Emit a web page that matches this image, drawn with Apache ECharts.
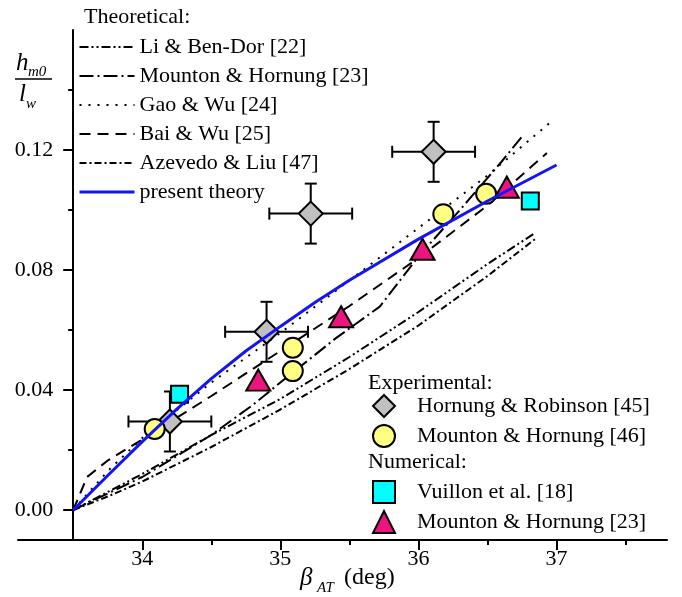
<!DOCTYPE html>
<html>
<head>
<meta charset="utf-8">
<script src="https://cdn.jsdelivr.net/npm/echarts@6.0.0/dist/echarts.min.js"></script>
<style>
  html, body { margin: 0; padding: 0; background: #fff; }
  #chart { width: 682px; height: 597px; }
</style>
</head>
<body>
<div id="chart"></div>
<script>
// theoretical curves
const liX = [33.5, 33.75, 34, 34.5, 35, 35.5, 36, 36.5, 36.85];
const liY = [0, 0.006, 0.012, 0.025, 0.037, 0.051, 0.066, 0.082, 0.0925];
const mhX = [33.5, 34, 34.5, 34.8, 35, 35.4, 35.72, 36, 36.3, 36.6, 36.75];
const mhY = [0, 0.011, 0.025, 0.035, 0.0425, 0.0572, 0.0678, 0.0845, 0.1, 0.116, 0.1245];
const gaoX = [33.5, 33.75, 34, 34.5, 35, 35.5, 36, 36.5, 36.95];
const gaoY = [0, 0.013, 0.024, 0.0425, 0.059, 0.0765, 0.094, 0.1115, 0.129];
const baiX = [33.5, 33.6, 33.75, 34, 34.5, 35, 35.5, 36, 36.5, 36.93];
const baiY = [0, 0.011, 0.0165, 0.0235, 0.038, 0.053, 0.068, 0.084, 0.1015, 0.119];
const azX = [33.5, 33.75, 34, 34.5, 35, 35.5, 36, 36.5, 36.85];
const azY = [0, 0.0045, 0.0095, 0.021, 0.0335, 0.047, 0.0615, 0.078, 0.0905];
const presX = [33.5, 33.75, 34, 34.25, 34.5, 34.75, 35, 35.25, 35.5, 36, 36.5, 37];
const presY = [0, 0.0115, 0.0228, 0.0336, 0.0438, 0.053, 0.0612, 0.0692, 0.0766, 0.0903, 0.103, 0.115];

// experimental / numerical points
const hrX = [34.2, 34.9, 35.22, 36.11];
const hrY = [0.0295, 0.0594, 0.0988, 0.1194];
const hrXErr = [0.3, 0.3, 0.3, 0.3];
const hrYErr = [0.01, 0.01, 0.01, 0.01];
const mh46X = [34.09, 35.09, 35.09, 36.18, 36.49];
const mh46Y = [0.027, 0.0541, 0.0463, 0.0986, 0.1054];
const vuX = [34.27, 36.81];
const vuY = [0.0386, 0.103];
const mh23X = [34.84, 35.44, 36.03, 36.64];
const mh23Y = [0.0433, 0.0644, 0.0869, 0.1076];

// ticks
const xMajor = [34, 35, 36, 37];
const xMinor = [34.5, 35.5, 36.5, 37.5];
const yMajor = [0, 0.04, 0.08, 0.12];
const yMinor = [0.02, 0.06, 0.10, 0.14];

const FONT = 'Liberation Serif';
const zip = (xs, ys) => xs.map((x, i) => [x, ys[i]]);

const chart = echarts.init(document.getElementById('chart'));

function theory(name, xs, ys, dash) {
    return {
        name: name,
        type: 'line',
        data: zip(xs, ys),
        symbol: 'none',
        z: 2,
        lineStyle: { color: '#000', width: 2, type: dash },
        itemStyle: { color: '#000' }
    };
}

function points(name, xs, ys, symbol, size, fill) {
    return {
        name: name,
        type: 'scatter',
        data: zip(xs, ys),
        symbol: symbol,
        symbolSize: size,
        z: 4,
        itemStyle: { color: fill, borderColor: '#000', borderWidth: 2, opacity: 1 }
    };
}

function renderErr(params, api) {
    const x = api.value(0), y = api.value(1), ex = api.value(2), ey = api.value(3);
    const l = api.coord([x - ex, y]), r = api.coord([x + ex, y]);
    const t = api.coord([x, y + ey]), b = api.coord([x, y - ey]);
    const c = 6;
    const st = { stroke: '#000', lineWidth: 2 };
    return {
        type: 'group',
        children: [
            { type: 'line', shape: { x1: l[0], y1: l[1], x2: r[0], y2: r[1] }, style: st },
            { type: 'line', shape: { x1: t[0], y1: t[1], x2: b[0], y2: b[1] }, style: st },
            { type: 'line', shape: { x1: l[0], y1: l[1] - c, x2: l[0], y2: l[1] + c }, style: st },
            { type: 'line', shape: { x1: r[0], y1: r[1] - c, x2: r[0], y2: r[1] + c }, style: st },
            { type: 'line', shape: { x1: t[0] - c, y1: t[1], x2: t[0] + c, y2: t[1] }, style: st },
            { type: 'line', shape: { x1: b[0] - c, y1: b[1], x2: b[0] + c, y2: b[1] }, style: st }
        ]
    };
}

const legendText = { fontFamily: FONT, fontSize: 22, color: '#000', lineHeight: 24 };
const markText = { fontFamily: FONT, fontSize: 22, color: '#000', lineHeight: 24, padding: [0, 0, 0, 17] };
const yOffset = -55.2;

chart.setOption({
    animation: false,
    backgroundColor: '#fff',
    grid: { left: 18, right: 15, top: 30, bottom: 57 },
    xAxis: [{
        type: 'value', min: 33.1, max: 37.8, position: 'bottom',
        splitLine: { show: false },
        axisLine: { onZero: false, lineStyle: { color: '#000', width: 2 } },
        axisTick: { customValues: xMajor, length: 10, lineStyle: { color: '#000', width: 2 } },
        axisLabel: { customValues: xMajor, margin: 8, fontFamily: FONT, fontSize: 22, color: '#000' }
    }, {
        type: 'value', min: 33.1, max: 37.8, position: 'bottom',
        splitLine: { show: false },
        axisLine: { show: false, onZero: false },
        axisTick: { customValues: xMinor, length: 5, lineStyle: { color: '#000', width: 2 } },
        axisLabel: { show: false }
    }],
    yAxis: [{
        type: 'value', min: -0.01, max: 0.16, position: 'left', offset: yOffset,
        splitLine: { show: false },
        axisLine: { show: true, onZero: false, lineStyle: { color: '#000', width: 2 } },
        axisTick: { show: true, customValues: yMajor, length: 10, lineStyle: { color: '#000', width: 2 } },
        axisLabel: {
            customValues: yMajor, margin: 20, fontFamily: FONT, fontSize: 22, color: '#000',
            formatter: v => v.toFixed(2)
        }
    }, {
        type: 'value', min: -0.01, max: 0.16, position: 'left', offset: yOffset,
        splitLine: { show: false },
        axisLine: { show: false, onZero: false },
        axisTick: { show: true, customValues: yMinor, length: 5, lineStyle: { color: '#000', width: 2 } },
        axisLabel: { show: false }
    }],
    legend: [{
        orient: 'vertical', left: 73, top: 30, selectedMode: false,
        itemWidth: 55, itemHeight: 14, itemGap: 5, textStyle: legendText,
        itemStyle: { color: 'rgba(0,0,0,0)', borderWidth: 0, opacity: 0 },
        data: ['Li & Ben-Dor [22]', 'Mounton & Hornung [23]', 'Gao & Wu [24]',
               'Bai & Wu [25]', 'Azevedo & Liu [47]',
               { name: 'present theory', lineStyle: { width: 3 } }]
    }, {
        orient: 'vertical', left: 367, top: 389, selectedMode: false,
        itemWidth: 22, itemHeight: 22, itemGap: 6, textStyle: markText,
        data: ['Hornung & Robinson [45]', 'Mounton & Hornung [46]']
    }, {
        orient: 'vertical', left: 367, top: 475, selectedMode: false,
        itemWidth: 22, itemHeight: 22, itemGap: 6, textStyle: markText,
        data: ['Vuillon et al. [18]', 'MH23num'],
        formatter: n => n === 'MH23num' ? 'Mounton & Hornung [23]' : n
    }],
    graphic: [
        { type: 'text', x: 84, y: 17, style: { text: 'Theoretical:', font: '22px "Liberation Serif"', fill: '#000', verticalAlign: 'middle' } },
        { type: 'text', x: 368, y: 383, style: { text: 'Experimental:', font: '22px "Liberation Serif"', fill: '#000', verticalAlign: 'middle' } },
        { type: 'text', x: 368, y: 462, style: { text: 'Numerical:', font: '22px "Liberation Serif"', fill: '#000', verticalAlign: 'middle' } },
        // y axis name: h_m0 / l_w
        { type: 'text', x: 16, y: 63, style: { text: 'h', font: 'italic 25px "Liberation Serif"', fill: '#000', verticalAlign: 'middle' } },
        { type: 'text', x: 28, y: 72, style: { text: 'm0', font: 'italic 15px "Liberation Serif"', fill: '#000', verticalAlign: 'middle' } },
        { type: 'line', shape: { x1: 15, y1: 79, x2: 52, y2: 79 }, style: { stroke: '#000', lineWidth: 1.5 } },
        { type: 'text', x: 19, y: 94, style: { text: 'l', font: 'italic 25px "Liberation Serif"', fill: '#000', verticalAlign: 'middle' } },
        { type: 'text', x: 26, y: 104, style: { text: 'w', font: 'italic 15px "Liberation Serif"', fill: '#000', verticalAlign: 'middle' } },
        // x axis name: beta_AT (deg)
        { type: 'text', x: 300, y: 578, style: { text: 'β', font: 'italic 25px "Liberation Serif"', fill: '#000', verticalAlign: 'middle' } },
        { type: 'text', x: 317, y: 588, style: { text: 'AT', font: 'italic 15px "Liberation Serif"', fill: '#000', verticalAlign: 'middle' } },
        { type: 'text', x: 344, y: 578, style: { text: '(deg)', font: '24px "Liberation Serif"', fill: '#000', verticalAlign: 'middle' } }
    ],
    series: [
        theory('Li & Ben-Dor [22]', liX, liY, [9, 3, 2, 3, 2, 3]),
        theory('Mounton & Hornung [23]', mhX, mhY, [14, 4, 2, 4]),
        theory('Gao & Wu [24]', gaoX, gaoY, [2, 7]),
        theory('Bai & Wu [25]', baiX, baiY, [11, 7]),
        theory('Azevedo & Liu [47]', azX, azY, [7, 3, 2, 3]),
        {
            type: 'custom',
            renderItem: renderErr,
            encode: { x: 0, y: 1 },
            data: hrX.map((x, i) => [x, hrY[i], hrXErr[i], hrYErr[i]]),
            z: 3
        },
        points('Hornung & Robinson [45]', hrX, hrY, 'diamond', 24, '#c0c0c0'),
        points('Mounton & Hornung [46]', mh46X, mh46Y, 'circle', 20, '#ffff80'),
        points('Vuillon et al. [18]', vuX, vuY, 'rect', 17, '#00ffff'),
        points('MH23num', mh23X, mh23Y, 'triangle', [24, 21], '#ee1480'),
        {
            name: 'present theory',
            type: 'line',
            data: zip(presX, presY),
            symbol: 'none',
            z: 5,
            lineStyle: { color: '#1414f5', width: 3 },
            itemStyle: { color: '#1414f5' }
        }
    ]
});
</script>
</body>
</html>
